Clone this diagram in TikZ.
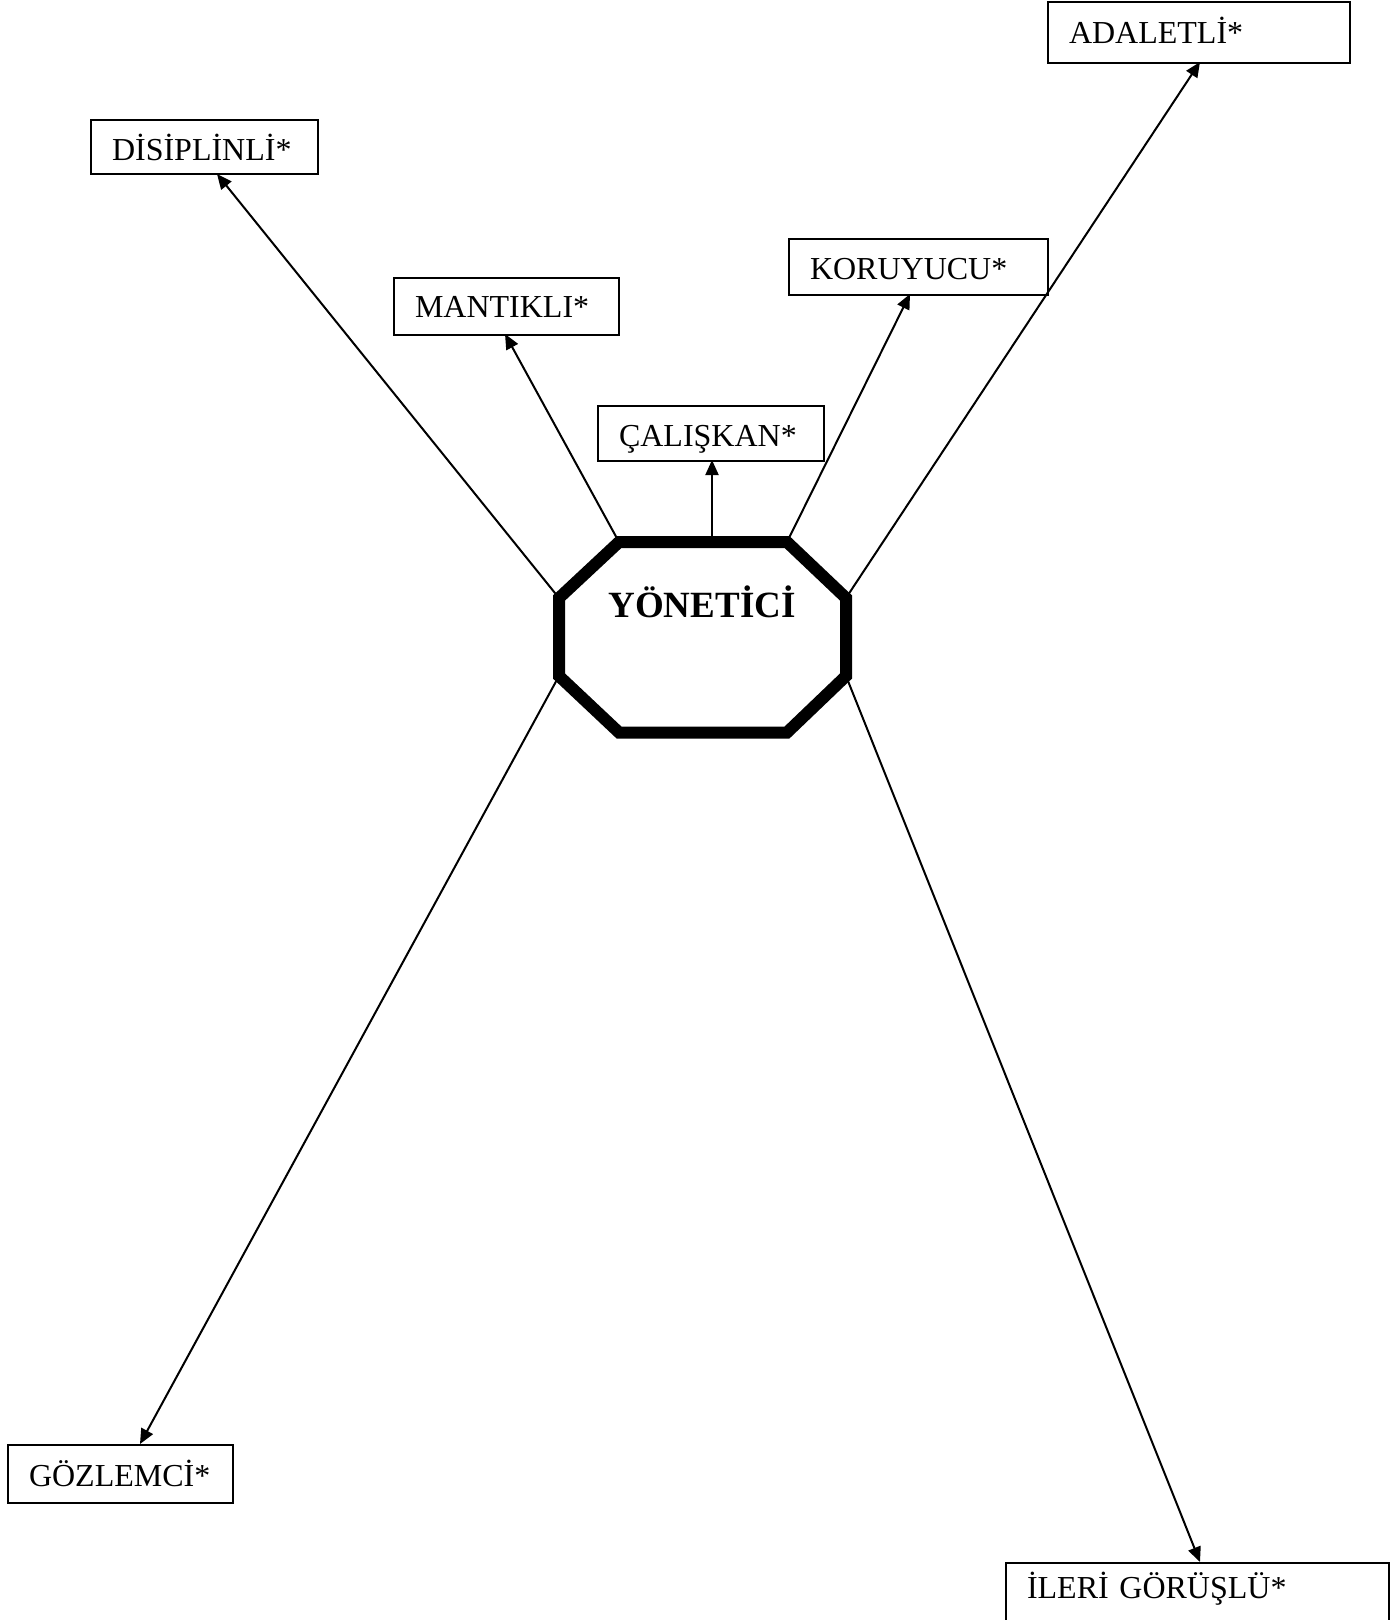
\documentclass[tikz,border=0pt]{standalone}
\usepackage{fontspec}
\setmainfont{Liberation Serif}
\usetikzlibrary{arrows.meta}
\begin{document}
\begin{tikzpicture}[x=1pt,y=-1pt,
  lbl/.style={draw, line width=2pt, anchor=north west, inner xsep=21pt, inner ysep=0pt, align=left, font=\fontsize{32}{38}\selectfont},
  arr/.style={line width=2pt, -{Triangle[length=15pt,width=13pt]}},
  oct/.style={line width=12pt, line join=miter}]
\useasboundingbox (0,0) rectangle (1397,1620);
% boxes
\node[lbl, text width=185pt, text height=40pt, text depth=14pt] (dis) at (90,119) {DİSİPLİNLİ*};
\node[lbl, text width=183pt, text height=39pt, text depth=18pt] (man) at (393,277) {MANTIKLI*};
\node[lbl, text width=184pt, text height=40pt, text depth=15pt] (cal) at (597,405) {ÇALIŞKAN*};
\node[lbl, text width=217pt, text height=40pt, text depth=16pt] (kor) at (788,238) {KORUYUCU*};
\node[lbl, text width=260pt, text height=41pt, text depth=20pt] (ada) at (1047,1) {ADALETLİ*};
\node[lbl, text width=183pt, text height=41pt, text depth=17pt] (goz) at (7,1444) {GÖZLEMCİ*};
\node[lbl, text width=341pt, text height=35pt, text depth=44pt] (ile) at (1005,1562) {İLERİ GÖRÜŞLÜ*};
% octagon
\coordinate (A) at (619,542);
\coordinate (B) at (787,542);
\coordinate (C) at (846,598);
\coordinate (D) at (846,676);
\coordinate (E) at (787,732.5);
\coordinate (F) at (619,732.5);
\coordinate (G) at (559,676);
\coordinate (H) at (559,598);
\coordinate (T) at (712,542);
\draw[oct] (A) -- (B) -- (C) -- (D) -- (E) -- (F) -- (G) -- (H) -- cycle;
\node[font=\fontsize{37}{40}\selectfont\bfseries, anchor=base] (yon) at (702,617) {YÖNETİCİ};
% arrow tips
\coordinate (tdis) at (217,174);
\coordinate (tman) at (505,334);
\coordinate (tcal) at (712,460);
\coordinate (tkor) at (910,294);
\coordinate (tada) at (1200,62);
\coordinate (tgoz) at (140,1444);
\coordinate (tile) at (1200,1562);
% connectors
\draw[arr] (H) -- (tdis);
\draw[arr] (A) -- (tman);
\draw[arr] (T) -- (tcal);
\draw[arr] (B) -- (tkor);
\draw[arr] (C) -- (tada);
\draw[arr] (G) -- (tgoz);
\draw[arr] (D) -- (tile);
\end{tikzpicture}
\end{document}
